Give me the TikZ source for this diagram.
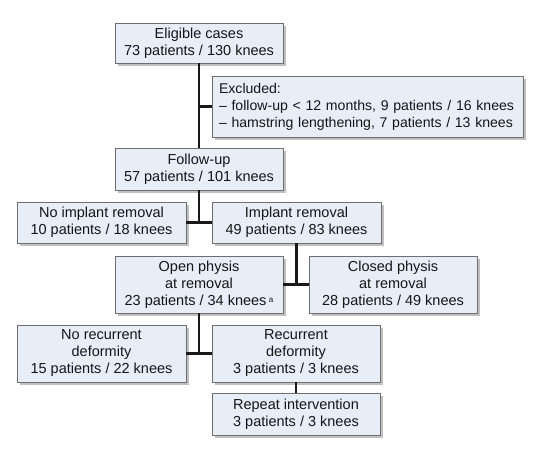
\documentclass[tikz,border=0pt]{standalone}
\usepackage{fontspec}
\setmainfont{Liberation Sans}
\usetikzlibrary{shadows}
\definecolor{boxfill}{HTML}{E8EEF8}
\definecolor{boxline}{HTML}{6E6E6E}
\definecolor{txt}{HTML}{151515}
\tikzset{
  flowbox/.style={draw=boxline, line width=0.9pt, fill=boxfill, align=center,
    inner sep=0pt, text=txt, font=\fontsize{14.5}{17}\selectfont,
    drop shadow={shadow xshift=2.5pt, shadow yshift=-2.5pt, fill=black!45, opacity=0.55}},
  link/.style={line width=2.6pt, draw=black!90}
}
\begin{document}
\begin{tikzpicture}[x=1pt,y=-1pt]
\useasboundingbox (0,0) rectangle (555,448);
\node[flowbox, minimum width=168, minimum height=40] (elig) at (199,43) {Eligible cases\\73 patients / 130 knees};
\node[flowbox, minimum width=311, minimum height=61, align=left, text width=297, inner xsep=7pt, font=\fontsize{14.1}{17}\selectfont] (excl) at (367.5,106.5) {Excluded:\\\textendash{} follow-up < 12 months, 9 patients / 16 knees\\\textendash{} hamstring lengthening, 7 patients / 13 knees};
\node[flowbox, minimum width=168, minimum height=42] (follow) at (199,169) {Follow-up\\57 patients / 101 knees};
\node[flowbox, minimum width=169, minimum height=41] (noimpl) at (101.5,222.5) {No implant removal\\10 patients / 18 knees};
\node[flowbox, minimum width=169, minimum height=41] (impl) at (296.5,222.5) {Implant removal\\49 patients / 83 knees};
\node[flowbox, minimum width=168, minimum height=57] (open) at (199,284.5) {Open physis\\at removal\\23 patients / 34 knees\,{\fontsize{8}{8}\selectfont\raisebox{0.35em}{a}}};
\node[flowbox, minimum width=168, minimum height=57] (closed) at (393,284.5) {Closed physis\\at removal\\28 patients / 49 knees};
\node[flowbox, minimum width=169, minimum height=57] (norec) at (101.5,353.5) {No recurrent\\deformity\\15 patients / 22 knees};
\node[flowbox, minimum width=168, minimum height=57] (rec) at (296,353.5) {Recurrent\\deformity\\3 patients / 3 knees};
\node[flowbox, minimum width=168, minimum height=42] (rep) at (296,414) {Repeat intervention\\3 patients / 3 knees};
\coordinate (j0) at (elig.south |- excl.west);
\coordinate (j1) at (follow.south |- noimpl.east);
\coordinate (j2) at (impl.south |- open.east);
\coordinate (j3) at (open.south |- norec.east);
\draw[link] (elig.south) -- (follow.north);
\draw[link] (j0) -- (excl.west);
\draw[link] (follow.south) -- (j1);
\draw[link] (noimpl.east) -- (impl.west);
\draw[link] (impl.south) -- (j2);
\draw[link] (open.east) -- (closed.west);
\draw[link] (open.south) -- (j3);
\draw[link] (norec.east) -- (rec.west);
\draw[link] (rec.south) -- (rep.north);
\end{tikzpicture}
\end{document}
